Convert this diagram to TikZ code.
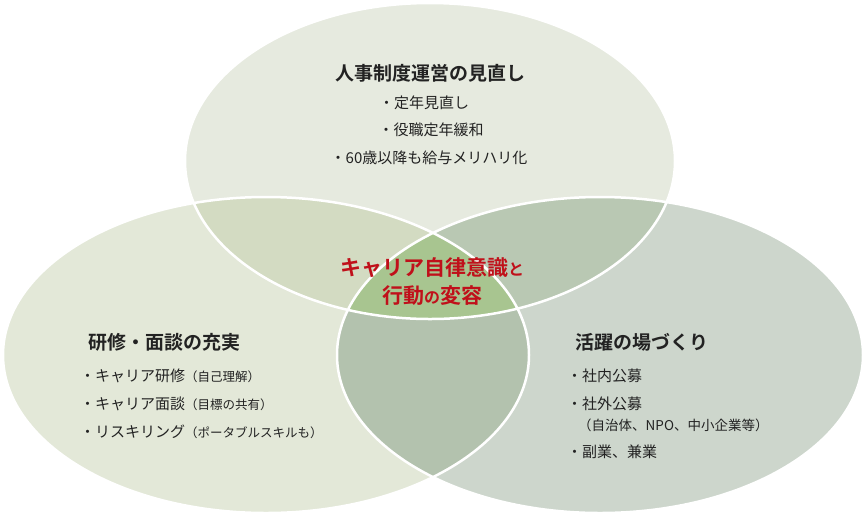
\documentclass[tikz,border=0pt]{standalone}
\usepackage{fontspec}
\setmainfont{Noto Sans CJK JP}
\newfontfamily\jpb{Noto Sans CJK JP Bold}
\newcommand\smtxt{\fontsize{12.5}{14}\selectfont}
\definecolor{cT}{HTML}{E6EADF}
\definecolor{cL}{HTML}{E3E8D8}
\definecolor{cR}{HTML}{CDD6CC}
\definecolor{cTL}{HTML}{D3DBC2}
\definecolor{cTR}{HTML}{B9C8B3}
\definecolor{cLR}{HTML}{B3C2AE}
\definecolor{cC}{HTML}{A8C590}
\definecolor{redt}{HTML}{C0101A}
\definecolor{txt}{HTML}{222222}
\begin{document}
\begin{tikzpicture}[x=1pt,y=-1pt,
  ttl/.style={font=\jpb\fontsize{19}{21}\selectfont,text=txt,inner sep=0},
  itm/.style={font=\fontsize{15}{17}\selectfont,text=txt,inner sep=0},
  ctr/.style={font=\jpb\fontsize{21}{24}\selectfont,text=redt,inner sep=0}]
\useasboundingbox (0,0) rectangle (865,515);
\def\eT{(430,161) ellipse [x radius=245,y radius=158]}
\def\eL{(266,355) ellipse [x radius=263,y radius=158]}
\def\eR{(600,355) ellipse [x radius=263,y radius=158]}
\fill[cT] \eT; \fill[cL] \eL; \fill[cR] \eR;
\begin{scope}\clip \eT; \fill[cTL] \eL; \fill[cTR] \eR; \end{scope}
\begin{scope}\clip \eL; \fill[cLR] \eR; \end{scope}
\begin{scope}\clip \eT; \clip \eL; \fill[cC] \eR; \end{scope}
\draw[white,line width=2.5] \eT \eL \eR;
\node[ttl] (t0) at (430,73) {人事制度運営の見直し};
\node[itm] (t1) at (424,103) {・定年見直し};
\node[itm] (t2) at (431,130) {・役職定年緩和};
\node[itm] (t3) at (429,158) {・60歳以降も給与メリハリ化};
\node[ttl,anchor=west] (l0) at (88,342) {研修・面談の充実};
\node[itm,anchor=west] (l1) at (80,376) {・キャリア研修{\smtxt（自己理解）}};
\node[itm,anchor=west] (l2) at (80,404) {・キャリア面談{\smtxt（目標の共有）}};
\node[itm,anchor=west] (l3) at (80,432) {・リスキリング{\smtxt（ポータブルスキルも）}};
\node[ttl,anchor=west] (r0) at (575,342) {活躍の場づくり};
\node[itm,anchor=west] (r1) at (567,376) {・社内公募};
\node[itm,anchor=west] (r2) at (567,404) {・社外公募};
\node[itm,anchor=west,font=\fontsize{13.5}{15}\selectfont] (r3) at (578,425) {（自治体、NPO、中小企業等）};
\node[itm,anchor=west] (r4) at (567,452) {・副業、兼業};
\node[ctr] (c1) at (432,268) {キャリア自律意識{\fontsize{16}{18}\selectfont と}};
\node[ctr] (c2) at (432,296) {行動{\fontsize{16}{18}\selectfont の}変容};
\end{tikzpicture}
\end{document}
